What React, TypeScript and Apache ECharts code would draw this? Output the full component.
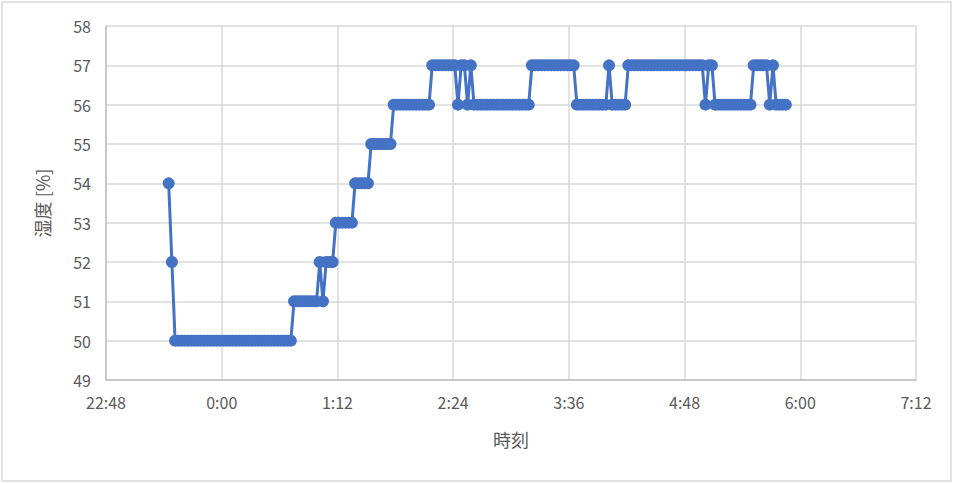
import React, { useEffect, useRef } from 'react';
import * as echarts from 'echarts';

// 計測開始 23:27、2分ごとのサンプル（分単位、0:00 = 1440）
const START_MIN = 23 * 60 + 27;
const STEP_MIN = 2;

// 湿度 [%]
const humidity: number[] = [
	54, 52,
	50, 50, 50, 50, 50, 50, 50, 50, 50, 50, 50, 50, 50, 50, 50, 50, 50, 50, 50, 50,
	50, 50, 50, 50, 50, 50, 50, 50, 50, 50, 50, 50, 50, 50, 50, 50, 50,
	51, 51, 51, 51, 51, 51, 51, 51,
	52, 51, 52, 52, 52,
	53, 53, 53, 53, 53, 53,
	54, 54, 54, 54, 54,
	55, 55, 55, 55, 55, 55, 55,
	56, 56, 56, 56, 56, 56, 56, 56, 56, 56, 56, 56,
	57, 57, 57, 57, 57, 57, 57, 57,
	56, 57, 57, 56, 57,
	56, 56, 56, 56, 56, 56, 56, 56, 56, 56, 56, 56, 56, 56, 56, 56, 56, 56,
	57, 57, 57, 57, 57, 57, 57, 57, 57, 57, 57, 57, 57, 57,
	56, 56, 56, 56, 56, 56, 56, 56, 56, 56,
	57,
	56, 56, 56, 56, 56,
	57, 57, 57, 57, 57, 57, 57, 57, 57, 57, 57, 57, 57, 57, 57, 57, 57, 57, 57, 57, 57, 57, 57, 57,
	56, 57, 57,
	56, 56, 56, 56, 56, 56, 56, 56, 56, 56, 56, 56,
	57, 57, 57, 57, 57,
	56, 57,
	56, 56, 56, 56
];

// 軸範囲（分）
const X_MIN = 22 * 60 + 48; // 22:48
const X_MAX = 24 * 60 + 7 * 60 + 12; // 7:12 (翌日)
const X_INTERVAL = 72;
const Y_MIN = 49;
const Y_MAX = 58;

const FONT = '"Noto Sans CJK JP", "Noto Sans", sans-serif';

const formatTime = (v: number) => {
	const h = Math.floor(v / 60) % 24;
	const m = Math.round(v % 60);
	return `${h}:${m < 10 ? '0' + m : m}`;
};

const App: React.FC = () => {
	const chartRef = useRef<HTMLDivElement>(null);

	useEffect(() => {
		document.body.style.margin = '0';
		if (!chartRef.current) return;
		const chart = echarts.init(chartRef.current, undefined, { renderer: 'svg' });

		const points = humidity.map((v, i) => [START_MIN + i * STEP_MIN, v]);

		const option: echarts.EChartsOption = {
			animation: false,
			backgroundColor: '#ffffff',
			textStyle: { fontFamily: FONT },
			grid: { left: 106, right: 38, top: 26, bottom: 103 },
			xAxis: {
				type: 'value',
				min: X_MIN,
				max: X_MAX,
				interval: X_INTERVAL,
				name: '時刻',
				nameLocation: 'middle',
				nameGap: 50,
				nameTextStyle: { color: '#595959', fontSize: 18, fontFamily: FONT },
				axisLine: { show: true, lineStyle: { color: '#bfbfbf', width: 1.5 } },
				axisTick: { show: false },
				axisLabel: {
					color: '#595959',
					fontSize: 16,
					fontFamily: FONT,
					margin: 14,
					formatter: (v: number) => formatTime(v)
				},
				splitLine: { show: true, lineStyle: { color: '#d9d9d9', width: 1.5 } }
			},
			yAxis: {
				type: 'value',
				min: Y_MIN,
				max: Y_MAX,
				interval: 1,
				name: '湿度 [%]',
				nameLocation: 'middle',
				nameRotate: 90,
				nameGap: 55,
				nameTextStyle: { color: '#595959', fontSize: 18, fontFamily: FONT },
				axisLine: { show: true, lineStyle: { color: '#bfbfbf', width: 1.5 } },
				axisTick: { show: false },
				axisLabel: { color: '#595959', fontSize: 16, fontFamily: FONT, margin: 15 },
				splitLine: { show: true, lineStyle: { color: '#d9d9d9', width: 1.5 } }
			},
			series: [
				{
					name: '湿度',
					type: 'line',
					data: points,
					symbol: 'circle',
					symbolSize: 12,
					showAllSymbol: true,
					lineStyle: { color: '#4472c4', width: 3 },
					itemStyle: { color: '#4472c4' }
				}
			],
			graphic: [
				{
					type: 'rect',
					shape: { x: 2, y: 2, width: 949, height: 479 },
					style: { fill: 'none', stroke: '#d9d9d9', lineWidth: 1.5 },
					silent: true
				}
			]
		};

		chart.setOption(option);

		return () => {
			chart.dispose();
		};
	}, []);

	return <div ref={chartRef} style={{ width: '954px', height: '483px' }} />;
};

export default App;
